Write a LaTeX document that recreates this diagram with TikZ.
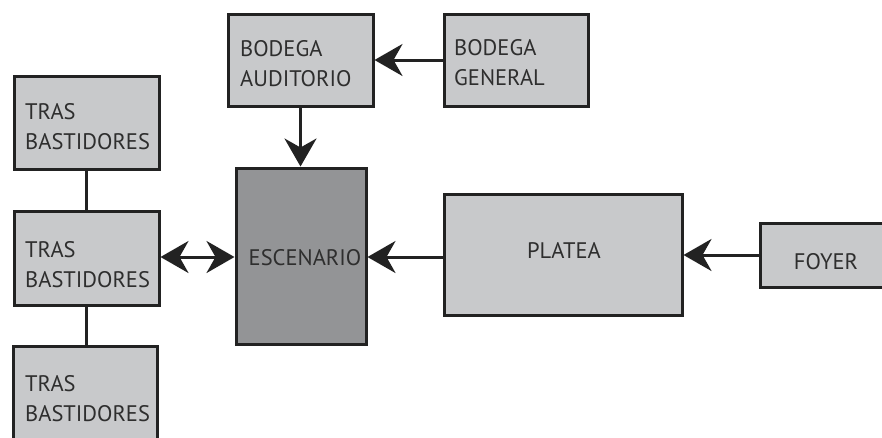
\documentclass[tikz,border=0pt]{standalone}
\usepackage{fontspec}
\setmainfont{PT Sans}
\usetikzlibrary{arrows.meta}
\definecolor{boxfill}{HTML}{C8C9CB}
\definecolor{escfill}{HTML}{939496}
\definecolor{edge}{HTML}{222222}
\definecolor{txt}{HTML}{2E2E2E}
\begin{document}
\begin{tikzpicture}[x=1pt,y=-1pt,
  box/.style={draw=edge, line width=3pt, fill=boxfill, rectangle, inner sep=0pt},
  escbox/.style={box, fill=escfill},
  lbl/.style={inner sep=0pt, text=txt, font=\fontsize{22.5}{30}\selectfont, align=left},
  tip/.style={},
  arr/.style={-{Stealth[length=28pt,width=32pt,inset=9pt]}, line width=3pt, draw=edge},
  darr/.style={{Stealth[length=28pt,width=32pt,inset=9pt]}-{Stealth[length=28pt,width=32pt,inset=9pt]}, line width=3pt, draw=edge},
  link/.style={line width=3pt, draw=edge}]
\useasboundingbox (0,0) rectangle (882,437);
\clip (0,0) rectangle (882,437);
% boxes
\node[box, minimum width=145pt, minimum height=92pt] (ba) at (300.5,60) {};
\node[box, minimum width=144pt, minimum height=92pt] (bg) at (516,60) {};
\node[box, minimum width=145pt, minimum height=93pt] (tb1) at (86.5,122.5) {};
\node[box, minimum width=145pt, minimum height=94pt] (tb2) at (86.5,258) {};
\node[box, minimum width=144pt, minimum height=113pt] (tb3) at (85,402.5) {};
\node[escbox, minimum width=130pt, minimum height=176pt] (esc) at (301,256) {};
\node[box, minimum width=238pt, minimum height=121pt] (pl) at (563,254.5) {};
\node[box, minimum width=140pt, minimum height=64pt] (fo) at (830,255) {};
% texts
\node[lbl, anchor=west] (tba) at (240,63.5) {BODEGA\\AUDITORIO};
\node[lbl, anchor=west] (tbg) at (454,63) {BODEGA\\GENERAL};
\node[lbl, anchor=west] (ttb1) at (25,127) {TRAS\\BASTIDORES};
\node[lbl, anchor=west] (ttb2) at (25,265) {TRAS\\BASTIDORES};
\node[lbl, anchor=west] (ttb3) at (25,399) {TRAS\\BASTIDORES};
\node[lbl] (tesc) at (305,258) {ESCENARIO};
\node[lbl] (tpl) at (564,250) {PLATEA};
\node[lbl] (tfo) at (826,262) {FOYER};
% connectors
\draw[arr] (bg.west) -- (ba.east);
\draw[arr] (ba.south) -- (ba.south |- esc.north);
\draw[arr] (pl.west |- 0,257) coordinate (plw) -- (plw -| esc.east);
\draw[arr] (fo.west) -- (fo.west -| pl.east);
\draw[darr] (tb2.east |- 0,257) coordinate (tbe) -- (tbe -| esc.west);
\draw[link] (tb1.south) -- (tb1.south |- tb2.north);
\draw[link] (tb2.south) -- (tb2.south |- tb3.north);
\end{tikzpicture}
\end{document}
